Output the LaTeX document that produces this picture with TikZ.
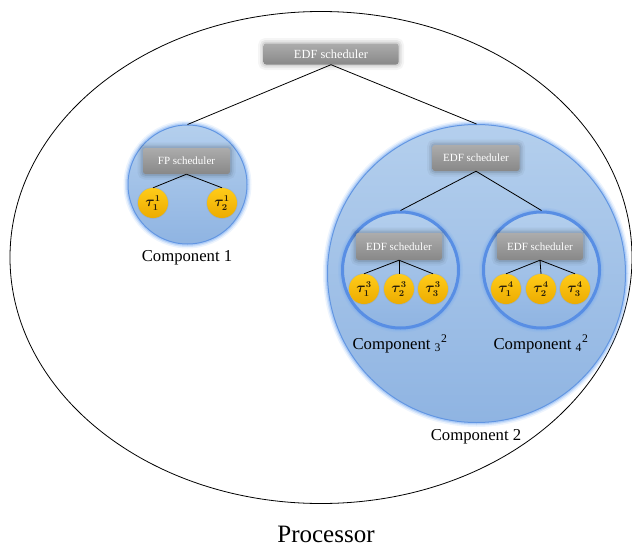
\documentclass[tikz,border=0pt]{standalone}
\usepackage{fontspec}
\setmainfont{Liberation Serif}
\usetikzlibrary{calc,shapes.geometric}

\definecolor{compTop}{RGB}{180,207,237}
\definecolor{compBot}{RGB}{143,180,226}
\definecolor{compEdge}{RGB}{98,150,226}
\definecolor{ringEdge}{RGB}{88,142,228}
\definecolor{glowBlue}{RGB}{110,165,240}
\definecolor{taskTop}{RGB}{255,203,25}
\definecolor{taskBot}{RGB}{236,172,0}
\definecolor{taskText}{RGB}{40,30,10}
\definecolor{schedTop}{RGB}{172,172,172}
\definecolor{schedBot}{RGB}{136,136,136}

\tikzset{
  comp/.style={circle, inner sep=0pt, top color=compTop, bottom color=compBot,
    draw=compEdge, line width=1pt,
    preaction={draw=glowBlue, line width=9pt, opacity=0.12},
    preaction={draw=glowBlue, line width=6pt, opacity=0.22},
    preaction={draw=glowBlue, line width=3.5pt, opacity=0.35}},
  subcomp/.style={comp, line width=3pt, draw=ringEdge},
  task/.style={circle, minimum size=30pt, inner sep=0pt,
    top color=taskTop, bottom color=taskBot, text=taskText,
    preaction={draw=taskBot!70!black, line width=1.5pt, opacity=0.15},
    font=\fontsize{13.5}{13.5}\selectfont\boldmath},
  sched/.style={rounded corners=2.5pt, minimum width=87pt, minimum height=26pt,
    inner sep=0pt, top color=schedTop, bottom color=schedBot, text=white,
    font=\fontsize{11}{11}\selectfont,
    preaction={draw=black, line width=11pt, opacity=0.04},
    preaction={draw=black, line width=7pt, opacity=0.06},
    preaction={draw=black, line width=3.5pt, opacity=0.08}},
  lbl/.style={font=\fontsize{16.7}{18}\selectfont},
  link/.style={draw=black, line width=0.8pt},
}

\begin{document}
\begin{tikzpicture}[x=1pt, y=-1pt]
  \useasboundingbox (0,0) rectangle (632,546);

  % processor boundary
  \node[draw=black, line width=0.8pt, ellipse, minimum width=622pt, minimum height=492pt,
        inner sep=0pt] (proc) at (321,257.5) {};
  \node[font=\fontsize{25}{28}\selectfont] (proclbl) at (326,534) {Processor};

  % top-level scheduler
  \node[sched, minimum width=135pt, minimum height=21pt, font=\fontsize{12.4}{12.4}\selectfont]
        (s0) at (331,54) {EDF scheduler};

  % component 1
  \node[comp, minimum size=119pt] (c1) at (187.5,184.5) {};
  \node[sched] (s1) at (186.5,161) {FP scheduler};
  \node[task] (t11) at (153,203) {$\tau^1_1$};
  \node[task] (t12) at (222,203) {$\tau^1_2$};
  \node[lbl] (l1) at (187,258) {Component 1};

  % component 2
  \node[comp, minimum size=298pt] (c2) at (476.5,273.5) {};
  \node[sched] (s2) at (476,158) {EDF scheduler};
  \node[lbl] (l2) at (476,437) {Component 2};

  % sub-component 3
  \node[subcomp, minimum size=116pt] (c3) at (400.5,270) {};
  \node[sched, minimum width=86pt, minimum height=27pt] (s3) at (399,246.5) {EDF scheduler};
  \node[task] (t31) at (364,289) {$\tau^3_1$};
  \node[task] (t32) at (399,289) {$\tau^3_2$};
  \node[task] (t33) at (433,289) {$\tau^3_3$};
  \node[lbl] (l3) at (400,344) {Component \textsubscript{3}\textsuperscript{2}};

  % sub-component 4
  \node[subcomp, minimum size=116pt] (c4) at (541.5,270) {};
  \node[sched, minimum width=86pt, minimum height=27pt] (s4) at (540,246.5) {EDF scheduler};
  \node[task] (t41) at (506,289) {$\tau^4_1$};
  \node[task] (t42) at (541,289) {$\tau^4_2$};
  \node[task] (t43) at (575,289) {$\tau^4_3$};
  \node[lbl] (l4) at (541,344) {Component \textsubscript{4}\textsuperscript{2}};

  % hierarchy links
  \draw[link] (s0.south) -- (c1.north);
  \draw[link] (s0.south) -- (c2.north);
  \draw[link] (s2.south) -- (c3.north);
  \draw[link] (s2.south) -- (c4.north);
  \draw[link] (s1.south) -- (t11.north);
  \draw[link] (s1.south) -- (t12.north);
  \draw[link] (s3.south) -- (t31.north);
  \draw[link] (s3.south) -- (t32.north);
  \draw[link] (s3.south) -- (t33.north);
  \draw[link] (s4.south) -- (t41.north);
  \draw[link] (s4.south) -- (t42.north);
  \draw[link] (s4.south) -- (t43.north);
\end{tikzpicture}
\end{document}
